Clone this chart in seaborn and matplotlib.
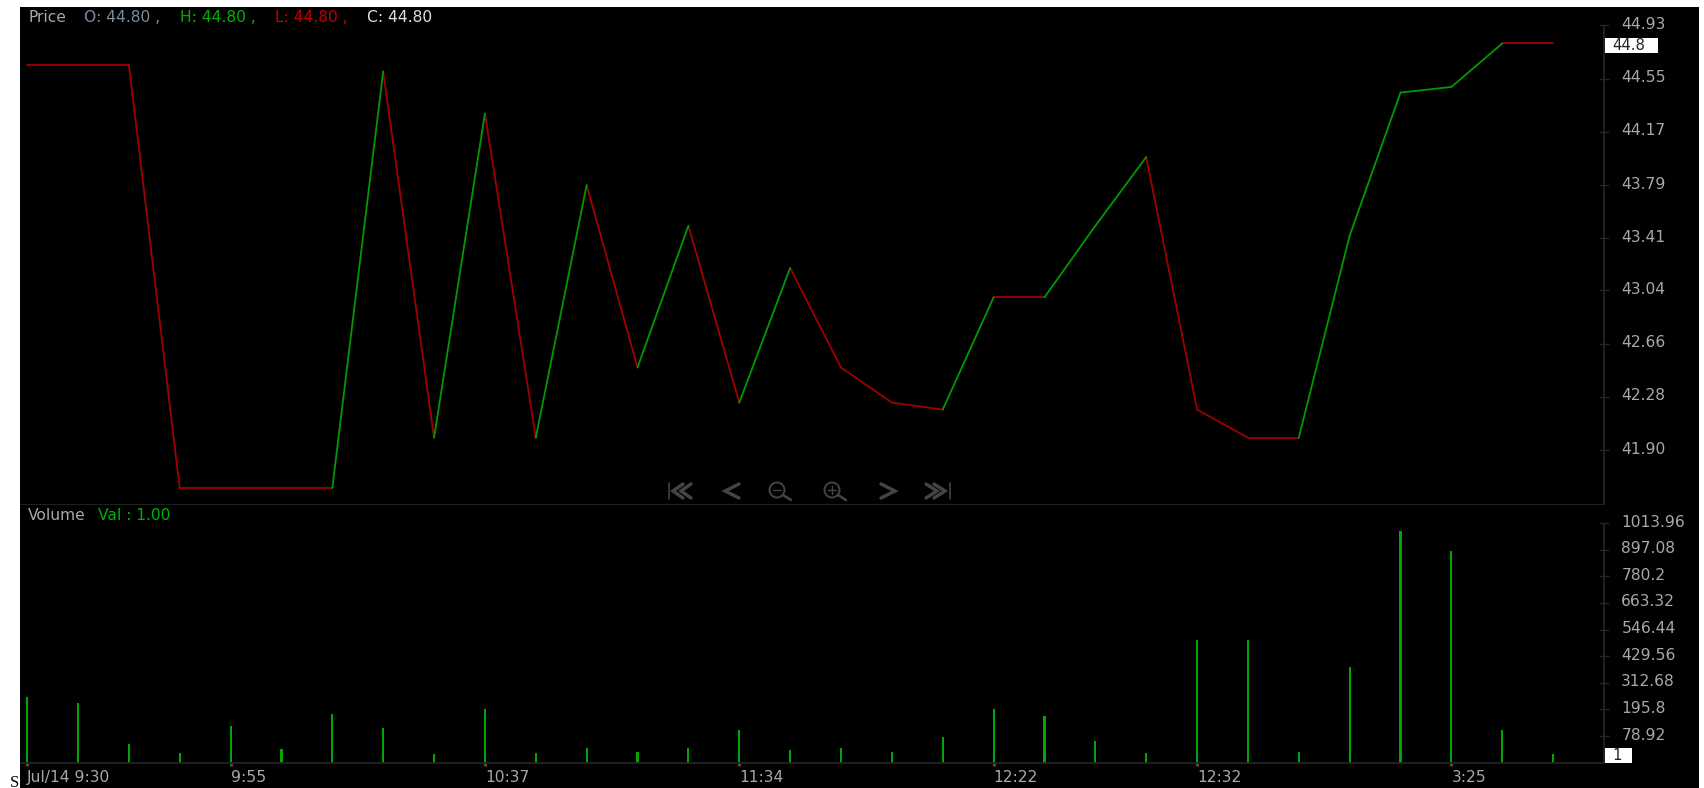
import numpy as np
import pandas as pd
import seaborn as sns
import matplotlib.pyplot as plt
from matplotlib.lines import Line2D
from matplotlib.patches import Rectangle, Circle
from matplotlib.transforms import ScaledTranslation

W, H = 1704, 788

price = [44.65, 44.65, 44.65, 41.63, 41.63, 41.63, 41.63, 44.60, 41.99, 44.30, 41.99,
         43.79, 42.49, 43.50, 42.24, 43.20, 42.49, 42.24, 42.19, 42.99, 42.99,
         43.50, 43.99, 42.19, 41.99, 41.99, 43.43, 44.45, 44.49, 44.80, 44.80]
volume = [251, 223, 46, 3, 123, 22, 175, 113, 1, 199, 3, 27, 8, 27, 104, 18,
          27, 8, 75, 199, 166, 56, 3, 500, 500, 8, 380, 977, 891, 104, 1]
price_ticks = [44.93, 44.55, 44.17, 43.79, 43.41, 43.04, 42.66, 42.28, 41.90]
volume_ticks = [1013.96, 897.08, 780.2, 663.32, 546.44, 429.56, 312.68, 195.8, 78.92]
volume_tick_labels = ['1013.96', '897.08', '780.2', '663.32', '546.44', '429.56', '312.68', '195.8', '78.92']
time_ticks = [0, 4, 9, 14, 19, 23, 28]
time_labels = ['Jul/14 9:30', '9:55', '10:37', '11:34', '12:22', '12:32', '3:25']

GREEN = '#009a00'
BAR_GREEN = '#00a800'
RED = '#a00000'
GRID = '#262626'
ICON = '#444444'
TEXT = '#a8a8a8'
FS = 11.2

sns.set_style("dark", {"axes.facecolor": "black", "figure.facecolor": "white"})
plt.rcParams['font.family'] = ['DejaVu Sans']


def fx(x):
    return x / W


def fy(y):
    return 1 - y / H


def box(left, top, right, bottom):
    return [fx(left), fy(bottom), (right - left) / W, (bottom - top) / H]


def label(x, y, s, color=TEXT, size=FS):
    fig.text(fx(x), fy(y), s, color=color, fontsize=size, va='center', ha='left')


def icon(points, lw=2.0):
    xs, ys = zip(*points)
    fig.add_artist(Line2D([fx(v) for v in xs], [fy(v) for v in ys], color=ICON, lw=lw * 0.72,
                          solid_capstyle='round', solid_joinstyle='miter'))


fig = plt.figure(figsize=(W / 100, H / 100), dpi=100)
fig.patches.append(Rectangle((fx(20), 0), (1699 - 20) / W, fy(7), transform=fig.transFigure,
                             facecolor='black', edgecolor='none', zorder=-5))

ax = fig.add_axes(box(20, 7, 1604, 505))
vol_ax = fig.add_axes(box(20, 505, 1604, 763))

# one two-point segment per step so each gets its own colour
rows = []
for i in range(len(price) - 1):
    way = 'up' if price[i + 1] > price[i] else 'down'
    rows.append({'t': i, 'p': price[i], 'seg': i, 'way': way})
    rows.append({'t': i + 1, 'p': price[i + 1], 'seg': i, 'way': way})
segs = pd.DataFrame(rows)

sns.lineplot(data=segs, x='t', y='p', hue='way', units='seg', estimator=None,
             palette={'up': GREEN, 'down': RED}, linewidth=1.3, legend=False, ax=ax)

vol_floor = -39.6
vol_df = pd.DataFrame({'t': np.arange(len(volume)), 'h': np.array(volume, dtype=float) - vol_floor})
sns.barplot(data=vol_df, x='t', y='h', native_scale=True, color=BAR_GREEN, saturation=1,
            width=0.042, bottom=vol_floor, ax=vol_ax, linewidth=0)

x_range = (-0.14, 31.0)
ax.set_xlim(x_range)
ax.set_ylim(41.51, 45.06)
vol_ax.set_xlim(x_range)
vol_ax.set_ylim(vol_floor, 1093)

for a in (ax, vol_ax):
    a.set_facecolor('black')
    a.set_xlabel('')
    a.set_ylabel('')
    a.grid(False)
    a.yaxis.tick_right()
    for side in ('top', 'left'):
        a.spines[side].set_visible(False)
    for side in ('right', 'bottom'):
        a.spines[side].set_visible(True)
        a.spines[side].set_color(GRID)
        a.spines[side].set_linewidth(1.2)
        a.spines[side].set_capstyle('butt')

ax.spines['right'].set_bounds(41.51, price_ticks[0])
vol_ax.spines['right'].set_bounds(vol_floor, volume_ticks[0])

ax.set_xticks([])
ax.set_yticks(price_ticks)
ax.set_yticklabels([f'{v:.2f}' for v in price_ticks])
vol_ax.set_yticks(volume_ticks)
vol_ax.set_yticklabels(volume_tick_labels)
vol_ax.set_xticks(time_ticks)
vol_ax.set_xticklabels(time_labels, ha='left')
for a in (ax, vol_ax):
    a.tick_params(axis='y', direction='inout', length=7, width=1, color=GRID, labelcolor=TEXT,
                  labelsize=FS, pad=9, right=True)
    # value labels sit a little above their tick
    nudge = ScaledTranslation(0, 2.5 / 100, fig.dpi_scale_trans)
    for t in a.get_yticklabels():
        t.set_transform(t.get_transform() + nudge)
vol_ax.tick_params(axis='x', direction='out', length=2, width=2, color='#555555', labelcolor=TEXT,
                   labelsize=FS, pad=3, bottom=True)

# header read-outs
label(28, 17, 'Price')
label(84, 17, 'O: 44.80 ,', color='#7c8ca0')
label(180, 17, 'H: 44.80 ,', color='#00b000')
label(275, 17, 'L: 44.80 ,', color='#c00000')
label(367, 17, 'C: 44.80', color='#e0e0e0')
label(28, 515, 'Volume')
label(98, 515, 'Val : 1.00', color='#00b000')

# last value boxes
for left, top, right, bottom, s in [(1605, 38, 1658, 53, '44.8'), (1605, 748, 1632, 763, '1')]:
    fig.patches.append(Rectangle((fx(left), fy(bottom)), (right - left) / W, (bottom - top) / H,
                                 transform=fig.transFigure, facecolor='white', edgecolor='none', zorder=5))
    fig.text(fx(left + 7), fy((top + bottom) / 2), s, color='#222222', fontsize=FS - 0.5,
             va='center', ha='left', zorder=6)

# nav icons under the price panel
cy = 491
icon([(669, 483), (669, 499)], lw=1.6)
for x0 in (671, 679):
    icon([(x0 + 12, 484), (x0 + 2, 491), (x0 + 12, 498)], lw=3.4)
icon([(739, 484), (725, 491), (739, 498)], lw=3.4)
icon([(881, 484), (895, 491), (881, 498)], lw=3.4)
for x0 in (926, 934):
    icon([(x0, 484), (x0 + 11, 491), (x0, 498)], lw=3.4)
icon([(950, 483), (950, 499)], lw=1.6)
for cx, plus in [(777, False), (832, True)]:
    fig.add_artist(Circle((cx / 100, (H - cy + 1) / 100), 7.5 / 100, transform=fig.dpi_scale_trans,
                          facecolor='none', edgecolor=ICON, linewidth=1.4))
    icon([(cx + 6, cy + 4), (cx + 14, cy + 9)], lw=2.6)
    icon([(cx - 4, cy - 1), (cx + 4, cy - 1)], lw=1.4)
    if plus:
        icon([(cx, cy - 5), (cx, cy + 3)], lw=1.4)

# stray letter left of the chart
fig.text(fx(10), fy(787), 'S', color='black', fontsize=12, family='Liberation Serif', va='baseline', ha='left')

fig.savefig('out.png', dpi=100)
